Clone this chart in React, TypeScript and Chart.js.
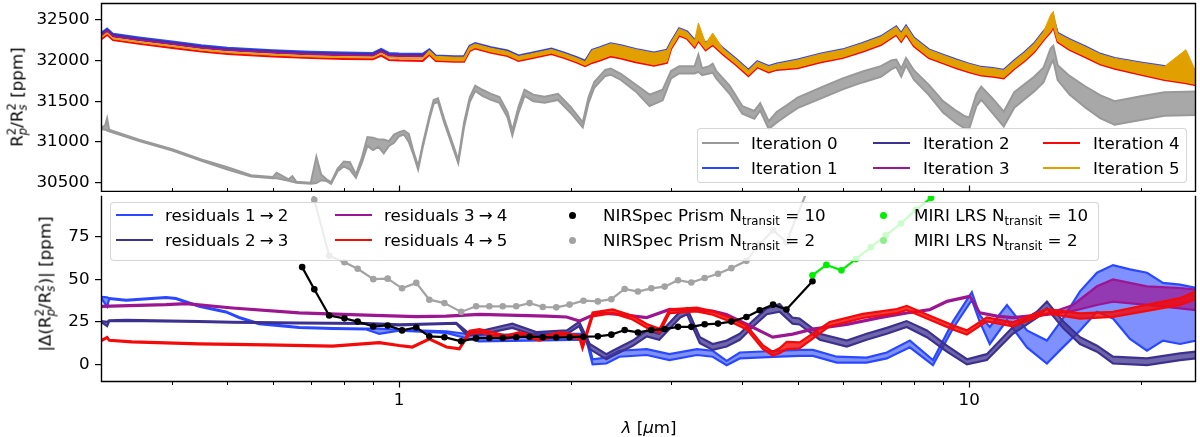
import { useEffect, useRef } from "react"
import { Chart, registerables } from "chart.js"

Chart.register(...registerables)

// ---------- top panel: transit depth per iteration (ppm) ----------
const iter0Wl = [0.3, 0.305, 0.3075, 0.31, 0.35, 0.4, 0.45, 0.5, 0.55, 0.6, 0.61, 0.64, 0.65, 0.66, 0.7, 0.716, 0.73, 0.745, 0.76, 0.78, 0.8, 0.82, 0.84, 0.86, 0.88, 0.9, 0.92, 0.94, 0.96, 0.98, 1.0, 1.02, 1.04, 1.06, 1.08, 1.1, 1.13, 1.15, 1.17, 1.2, 1.25, 1.27, 1.3, 1.33, 1.36, 1.4, 1.45, 1.5, 1.55, 1.58, 1.62, 1.66, 1.72, 1.8, 1.9, 2.0, 2.1, 2.15, 2.2, 2.3, 2.35, 2.45, 2.6, 2.75, 2.9, 3.0, 3.1, 3.3, 3.35, 3.4, 3.5, 3.55, 3.6, 3.8, 4.0, 4.2, 4.3, 4.45, 4.6, 4.8, 5.0, 5.5, 6.0, 6.5, 7.0, 7.3, 7.45, 7.6, 7.75, 8.0, 8.5, 9.0, 9.5, 9.8, 10, 10.3, 10.5, 11, 11.5, 12, 13, 13.5, 13.9, 14.05, 14.3, 15, 16, 17, 18, 20, 22, 25]
const iter0Lo = [31160, 31150, 31140, 31130, 31010, 30894, 30768, 30662, 30575, 30553, 30555, 30523, 30512, 30498, 30485, 30495, 30530, 30520, 30485, 30640, 30700, 30660, 30560, 30740, 30950, 30900, 30940, 30860, 30950, 30990, 31070, 31090, 31000, 30840, 30660, 30930, 31275, 31470, 31490, 31235, 30880, 30740, 31180, 31490, 31625, 31565, 31515, 31480, 31300, 31080, 31360, 31565, 31500, 31480, 31515, 31355, 31180, 31480, 31665, 31810, 31825, 31760, 31620, 31440, 31510, 31780, 31840, 31840, 31860, 31820, 31840, 31850, 31780, 31590, 31345, 31285, 31385, 31160, 31240, 31330, 31415, 31535, 31645, 31730, 31800, 31890, 31920, 31800, 31940, 31765, 31575, 31360, 31230, 31170, 31160, 31440, 31520, 31350, 31190, 31420, 31620, 31730, 31950, 32000, 31760, 31580, 31420, 31290, 31210, 31270, 31320, 31330]
const iter0Hi = [31176, 31200, 31290, 31150, 31026, 30910, 30784, 30690, 30590, 30568, 30620, 30540, 30580, 30512, 30500, 30819, 30600, 30545, 30505, 30670, 30760, 30750, 30600, 30800, 31060, 31050, 31030, 31030, 31010, 31090, 31120, 31140, 31100, 30880, 30700, 30970, 31315, 31515, 31535, 31280, 30920, 30775, 31235, 31545, 31690, 31640, 31590, 31550, 31365, 31140, 31430, 31640, 31580, 31555, 31590, 31430, 31240, 31550, 31735, 31885, 31900, 31835, 31705, 31580, 31640, 31870, 31930, 31930, 32070, 31905, 31930, 31960, 31870, 31690, 31440, 31380, 31475, 31255, 31370, 31455, 31545, 31670, 31780, 31865, 31930, 32000, 32010, 31900, 32030, 31880, 31700, 31500, 31380, 31320, 31300, 31590, 31680, 31530, 31370, 31610, 31800, 31910, 32150, 32180, 31940, 31810, 31680, 31570, 31500, 31560, 31610, 31620]

const iterWl = [0.3, 0.3075, 0.315, 0.35, 0.4, 0.45, 0.5, 0.6, 0.7, 0.8, 0.9, 0.93, 0.96, 1.0, 1.1, 1.13, 1.16, 1.25, 1.3, 1.33, 1.36, 1.45, 1.55, 1.62, 1.7, 1.85, 1.95, 2.05, 2.12, 2.18, 2.25, 2.35, 2.45, 2.6, 2.8, 2.95, 3.0, 3.1, 3.2, 3.3, 3.35, 3.45, 3.55, 3.7, 3.9, 4.1, 4.25, 4.45, 4.6, 5.0, 5.5, 6.0, 6.5, 7.0, 7.45, 7.6, 7.75, 8.0, 8.5, 9.0, 9.5, 10, 10.5, 11, 11.5, 12, 12.5, 13, 13.5, 13.9, 14.05, 14.3, 15, 16, 17, 18, 20, 22, 24, 25]
const iter1 = [32335, 32390, 32325, 32280, 32230, 32185, 32155, 32125, 32105, 32095, 32090, 32140, 32090, 32085, 32080, 32135, 32060, 32050, 32050, 32180, 32213, 32160, 32120, 32060, 32090, 32145, 32095, 32040, 31995, 32130, 32160, 32210, 32185, 32140, 32095, 32130, 32230, 32395, 32355, 32250, 32330, 32215, 32280, 32150, 32020, 31885, 31990, 31930, 31960, 32010, 32085, 32135, 32213, 32295, 32418, 32336, 32426, 32280, 32135, 32070, 32010, 31960, 31920, 31906, 31885, 32000, 32100, 32210, 32356, 32460, 32520, 32336, 32260, 32170, 32080, 32030, 31975, 31930, 31890, 31865]
const iter2 = [32320, 32375, 32310, 32265, 32215, 32170, 32140, 32110, 32090, 32080, 32075, 32125, 32075, 32070, 32065, 32123, 32048, 32038, 32038, 32168, 32201, 32148, 32108, 32048, 32078, 32133, 32083, 32028, 31983, 32115, 32145, 32195, 32170, 32125, 32080, 32115, 32215, 32380, 32340, 32235, 32315, 32200, 32265, 32135, 32005, 31870, 31975, 31915, 31945, 31995, 32070, 32120, 32198, 32280, 32403, 32321, 32411, 32265, 32120, 32055, 31995, 31945, 31905, 31891, 31870, 31985, 32085, 32195, 32341, 32445, 32505, 32321, 32245, 32155, 32065, 32015, 31960, 31915, 31875, 31850]
const iter3 = [32305, 32360, 32295, 32250, 32200, 32155, 32125, 32095, 32075, 32065, 32060, 32110, 32060, 32055, 32050, 32110, 32035, 32025, 32025, 32155, 32188, 32135, 32095, 32035, 32065, 32120, 32070, 32015, 31970, 32100, 32130, 32180, 32155, 32110, 32065, 32100, 32200, 32365, 32325, 32220, 32300, 32185, 32250, 32120, 31990, 31855, 31960, 31900, 31930, 31980, 32055, 32105, 32183, 32265, 32388, 32306, 32396, 32250, 32105, 32040, 31980, 31930, 31890, 31876, 31855, 31970, 32070, 32180, 32326, 32430, 32490, 32306, 32230, 32140, 32050, 32000, 31945, 31900, 31860, 31835]
const iter4 = [32260, 32315, 32250, 32205, 32155, 32110, 32080, 32050, 32030, 32020, 32015, 32060, 32005, 32000, 31995, 32070, 31995, 31985, 31985, 32115, 32148, 32095, 32055, 31995, 32025, 32080, 32030, 31975, 31930, 31970, 32000, 32050, 32025, 31980, 31935, 31970, 32140, 32305, 32265, 32160, 32240, 32125, 32190, 32075, 31945, 31810, 31915, 31855, 31885, 31905, 31980, 32030, 32108, 32190, 32313, 32231, 32321, 32175, 32030, 31965, 31905, 31855, 31815, 31801, 31780, 31895, 31990, 32100, 32246, 32350, 32410, 32226, 32130, 32040, 31950, 31900, 31825, 31760, 31720, 31695]
const iter5Lo = [32275, 32330, 32265, 32220, 32170, 32125, 32095, 32065, 32045, 32035, 32030, 32080, 32030, 32025, 32020, 32080, 32005, 31995, 31995, 32125, 32158, 32105, 32065, 32005, 32035, 32090, 32040, 31985, 31940, 31982, 32012, 32062, 32037, 31992, 31947, 31982, 32150, 32315, 32275, 32170, 32250, 32135, 32200, 32085, 31955, 31820, 31925, 31865, 31895, 31915, 31990, 32040, 32118, 32200, 32323, 32241, 32331, 32185, 32040, 31975, 31915, 31865, 31825, 31811, 31790, 31905, 32000, 32110, 32256, 32360, 32420, 32236, 32140, 32050, 31960, 31910, 31835, 31770, 31730, 31705]
const iter5Hi = [32285, 32340, 32275, 32230, 32180, 32135, 32105, 32075, 32055, 32045, 32040, 32090, 32040, 32035, 32030, 32125, 32050, 32040, 32040, 32170, 32203, 32150, 32110, 32050, 32080, 32135, 32085, 32030, 31985, 32125, 32155, 32205, 32180, 32135, 32090, 32125, 32225, 32390, 32350, 32245, 32460, 32210, 32336, 32145, 32015, 31880, 31985, 31925, 31955, 32005, 32080, 32130, 32208, 32290, 32413, 32331, 32421, 32275, 32130, 32065, 32005, 31955, 31915, 31901, 31880, 31995, 32095, 32205, 32351, 32560, 32602, 32331, 32255, 32165, 32075, 32025, 31970, 31925, 32131, 31860]

// ---------- bottom panel: residuals and instrument precision (ppm) ----------
const res12Wl = [0.3, 0.3075, 0.31, 0.332, 0.39, 0.406, 0.446, 0.497, 0.524, 0.568, 0.668, 0.764, 0.876, 0.923, 1.0, 1.21, 1.38, 1.69, 2.13, 2.185, 2.31, 2.435, 2.72, 2.98, 3.33, 3.55, 3.755, 3.96, 4.65, 5.04, 5.32, 5.86, 6.61, 7.17, 7.87, 8.64, 9.36, 10.11, 10.44, 10.87, 11.65, 12.63, 13.69, 14.6, 15.65, 16.76, 17.88, 19.15, 20.51, 21.88, 23.44, 25]
const res12Lo = [39.25, 34, 38.5, 37.5, 39.15, 38.5, 34, 30.65, 27.4, 23.75, 21.45, 20.85, 20.55, 18, 19.9, 18.5, 13.5, 14, 14.5, 0, 0.5, 4.5, 5.5, 2.5, 5.5, 4.5, -0.5, 3.5, 4.5, 5, 5, 1, 1, 3.5, 10, -0.5, 21, 38, 25, 12, 26, 10, 0.5, 10, 20, 31, 27, 15, 8, 14, 12, 14]
const res12Hi = [39.75, 39.5, 39, 38, 39.65, 39, 34.5, 31.15, 27.9, 24.25, 21.95, 21.35, 21.05, 21, 20.4, 19.5, 17, 18, 18, 3, 4, 8, 9, 6, 9, 8, 2, 7, 8, 8.5, 8.5, 4.5, 4, 7, 14, 2.5, 25, 42.5, 29, 22, 35, 20, 14, 27, 43, 54, 58.5, 56, 54, 48, 47, 45]

const res23Wl = [0.3, 0.3075, 0.31, 0.332, 0.446, 0.51, 0.668, 0.876, 1.0, 1.13, 1.26, 1.318, 1.384, 1.58, 1.74, 1.97, 2.07, 2.16, 2.31, 2.37, 2.57, 2.72, 2.86, 3.11, 3.2, 3.37, 3.55, 3.755, 3.96, 4.17, 4.415, 4.65, 4.9, 5.04, 5.47, 6.1, 6.61, 7.17, 7.77, 8.43, 9.14, 9.91, 10.74, 11.93, 13.15, 13.69, 14.6, 15.65, 16.76, 17.88, 20.51, 23.44, 25]
const res23Lo = [25, 22.5, 25.4, 25.65, 24.95, 24.55, 24.15, 23.85, 23, 23.5, 23.95, 17, 17.5, 21.5, 17, 18, 22.5, 9, 3, 5, 11, 16.5, 14.5, 27.5, 29.5, 12.5, 8.5, 10.5, 14.5, 22, 29.5, 31, 24, 23.5, 14.5, 10.5, 14.5, 18, 22, 16, 7.5, 0, 2.5, 18, 27.5, 33, 21.5, 12, 7.5, 0.5, -0.5, 2.5, 3.5]
const res23Hi = [25.5, 25, 25.9, 26.15, 25.45, 25.05, 24.65, 24.35, 23.5, 24, 24.45, 19, 19.5, 24, 19, 20, 25, 12, 6, 8, 14, 20, 18, 31, 33, 16, 12, 14, 18, 25.5, 33, 35.5, 27.5, 27, 18, 14, 18, 21.5, 25.5, 20, 11, 3, 6, 22, 31, 37, 25.5, 16, 11, 4.5, 3.5, 6.5, 7.5]

const res34Wl = [0.3, 0.39, 0.423, 0.51, 0.668, 0.876, 1.072, 1.21, 1.384, 1.814, 1.967, 2.073, 2.159, 2.247, 2.435, 2.718, 2.983, 3.549, 3.755, 4.071, 4.292, 4.523, 4.903, 5.316, 6.099, 6.969, 7.773, 8.531, 9.14, 10.03, 10.44, 11.19, 11.93, 13.69, 15.21, 16.76, 17.88, 20.51, 23.44, 25]
const res34Lo = [33.9, 34.9, 35.5, 32.9, 30, 28.7, 27.8, 28.1, 29.1, 28.1, 27.6, 25.2, 27.95, 29.95, 29.15, 27.25, 32.05, 31.05, 29.1, 23.3, 19.5, 15.7, 17.5, 20.5, 23.3, 27.2, 29.95, 31.95, 36.8, 39.8, 30.05, 28.1, 27.2, 29.1, 31.5, 35, 37, 35, 33, 32]
const res34Hi = [34.5, 35.5, 36.1, 33.5, 30.6, 29.3, 28.4, 28.7, 29.7, 28.7, 28.2, 25.8, 28.55, 30.55, 29.75, 27.85, 32.65, 31.65, 29.7, 23.9, 20.1, 16.3, 18.1, 21.1, 23.9, 27.8, 30.55, 32.55, 37.4, 40.4, 30.65, 28.7, 27.8, 29.7, 35, 46, 50, 46, 45, 44]

const res45Wl = [0.3, 0.3075, 0.31, 0.34, 0.446, 0.585, 0.764, 0.923, 1.0, 1.055, 1.13, 1.211, 1.276, 1.329, 1.384, 1.543, 1.626, 1.763, 1.911, 2.073, 2.098, 2.185, 2.369, 2.568, 2.718, 2.864, 2.983, 3.327, 3.549, 3.801, 4.071, 4.345, 4.523, 4.65, 4.786, 5.044, 5.694, 6.509, 7.466, 7.773, 8.531, 9.363, 9.908, 10.74, 11.93, 13.69, 15.65, 17.88, 20.51, 23.44, 25]
const res45Lo = [13.65, 15.5, 13.9, 12.9, 11.8, 11.2, 10.5, 12.45, 10.8, 9.9, 14.7, 9.9, 8.9, 17.8, 18.8, 15, 17, 14, 17, 15, 9.2, 28.3, 30.2, 26.4, 21.6, 18.7, 30.2, 31.2, 29.2, 25.4, 20.6, 9.1, 5.2, 6.5, 9, 9.5, 22.5, 27.3, 30.2, 32, 26.3, 20.5, 17.6, 25.3, 22.4, 30, 27, 28, 31.5, 35, 38.5]
const res45Hi = [14.25, 16.1, 14.5, 13.5, 12.4, 11.8, 11.1, 13.05, 11.4, 10.5, 15.3, 10.5, 9.5, 19.8, 20.8, 17, 19, 16, 19, 17, 11.2, 30.5, 32.4, 28.6, 23.8, 20.9, 32.4, 33.4, 31.4, 27.6, 22.8, 11.3, 7.4, 9.5, 13.2, 13, 25, 29.7, 32.6, 34.5, 28.7, 23, 20, 27.7, 24.8, 32.6, 30, 31, 35, 39, 43]

const nirspecWl = [0.676, 0.71, 0.754, 0.802, 0.846, 0.901, 0.955, 1.012, 1.072, 1.13, 1.201, 1.285, 1.365, 1.44, 1.52, 1.605, 1.694, 1.787, 1.887, 1.991, 2.106, 2.232, 2.357, 2.487, 2.624, 2.77, 2.923, 3.085, 3.256, 3.436, 3.626, 3.827, 4.067, 4.292, 4.529, 4.78, 5.311]
const nirspec10 = [57.3, 44.2, 28.8, 27.1, 25.2, 22.3, 22.9, 20, 21.7, 16.5, 16, 13.6, 15.4, 15.5, 15.5, 16, 16.3, 16, 15.8, 16, 16.3, 16.5, 17.5, 20.2, 18.8, 20.2, 20.8, 22.1, 22.1, 23.6, 24, 25.2, 27.9, 31.9, 35.2, 32.3, 49]
const nirspec2 = [128, 97, 64, 60.2, 56.3, 50.2, 50.5, 44.8, 48, 38.1, 36.1, 30.9, 34.2, 34.2, 34.2, 34.2, 36.1, 33.8, 33.6, 35.2, 37.5, 37.1, 38.4, 44.4, 42.9, 44.8, 45.8, 49.6, 48.2, 50.9, 53.4, 56.7, 61, 71, 79, 72, 110]

const miriWl = [5.311, 5.618, 5.97, 6.326, 6.722, 7.141, 7.59, 8.064, 8.568, 9.103, 9.672]
const miri10 = [52.5, 58.6, 55.4, 62, 69, 76, 83, 91, 98, 106, 113]
const miri2 = [117, 131, 124, 139, 154, 170, 186, 203, 219, 237, 253]

// ---------- axes ----------
const xMajor = [1, 10]
const xMinor = [0.4, 0.5, 0.6, 0.7, 0.8, 0.9, 2, 3, 4, 5, 6, 7, 8, 9, 20]
const topTicks = [30500, 31000, 31500, 32000, 32500]
const bottomTicks = [0, 25, 50, 75]

const COLORS = {
  grey: "#999999",
  blue: "#2a48ff",
  indigo: "#3d318f",
  purple: "#9c1691",
  red: "#f50a0a",
  orange: "#e2a000",
  black: "#000000",
  grey2: "#a3a3a3",
  lime: "#00ee00",
  lightgreen: "#90ee90",
}

const FONT = '"DejaVu Sans", sans-serif'
const FS = 16.7

const pts = (wl: number[], ys: number[]) => wl.map((x, i) => ({ x, y: ys[i] }))

function lineDs(wl: number[], ys: number[], color: string) {
  return { data: pts(wl, ys), borderColor: color, backgroundColor: color, borderWidth: 2.2, pointRadius: 0, fill: false, clip: 0 }
}

function bandDs(wl: number[], lo: number[], hi: number[], color: string, fillColor: string, width = 2.2) {
  return [
    { data: pts(wl, lo), borderColor: color, borderWidth: width, pointRadius: 0, fill: false, clip: 0 },
    { data: pts(wl, hi), borderColor: color, borderWidth: width, pointRadius: 0, fill: "-1", backgroundColor: fillColor, clip: 0 },
  ]
}

function markerDs(wl: number[], ys: number[], color: string) {
  return {
    data: pts(wl, ys), borderColor: color, backgroundColor: color, borderWidth: 2.2,
    pointRadius: 3.3, pointBorderWidth: 0, pointBackgroundColor: color, fill: false, clip: 0,
  }
}

// first in list is drawn first (underneath)
const stack = (list: any[]) => list.map((d, i) => ({ ...d, order: list.length - i }))

// axes box, plus the x tick marks (up inside for the top panel, down outside for the bottom one)
function framePlugin(dir: number, drawTop: boolean) {
  return {
    id: "frame",
    afterDraw(chart: any) {
      const { ctx, chartArea: a } = chart
      const x = chart.scales.x
      const L = Math.round(a.left) + 0.5
      const R = Math.round(a.right) - 0.5
      const T = Math.round(a.top) + 0.5
      const B = Math.round(a.bottom) - 0.5
      ctx.save()
      ctx.strokeStyle = "#000"
      ctx.lineWidth = 1.4
      ctx.beginPath()
      if (drawTop) {
        ctx.moveTo(L, T)
        ctx.lineTo(R, T)
      }
      ctx.moveTo(L, T - 0.7)
      ctx.lineTo(L, B + 0.7)
      ctx.moveTo(R, T - 0.7)
      ctx.lineTo(R, B + 0.7)
      ctx.moveTo(L, B)
      ctx.lineTo(R, B)
      ctx.stroke()
      const tick = (v: number, len: number) => {
        const px = Math.round(x.getPixelForValue(v)) + 0.5
        ctx.beginPath()
        ctx.moveTo(px, B)
        ctx.lineTo(px, B + dir * len)
        ctx.stroke()
      }
      ctx.lineWidth = 1.2
      xMajor.forEach((v) => tick(v, 6))
      ctx.lineWidth = 1
      xMinor.forEach((v) => tick(v, 3.5))
      ctx.restore()
    },
  }
}

function yAxis(min: number, max: number, ticks: number[]) {
  return {
    type: "linear",
    min,
    max,
    afterFit: (s: any) => {
      s.width = 101
      s.paddingTop = 0
      s.paddingBottom = 0
    },
    afterBuildTicks: (s: any) => {
      s.ticks = ticks.map((value) => ({ value }))
    },
    grid: { display: true, drawOnChartArea: false, drawTicks: true, tickLength: 6, color: "#000", lineWidth: 1.2 },
    border: { display: false },
    ticks: { color: "#000", font: { family: FONT, size: FS }, padding: 5.5, autoSkip: false, callback: (v: any) => String(v) },
  }
}

const baseOptions = {
  responsive: false,
  animation: false,
  events: [],
  plugins: { legend: { display: false }, tooltip: { enabled: false } },
  elements: { line: { tension: 0 } },
}

function SupSub({ sup, sub }: { sup: string; sub: string }) {
  return (
    <span style={{ display: "inline-block", verticalAlign: "-0.32em", lineHeight: 0.95, fontSize: "0.7em", textAlign: "left" }}>
      <span style={{ display: "block" }}>{sup}</span>
      <span style={{ display: "block", fontStyle: "italic" }}>{sub}</span>
    </span>
  )
}

function Transit() {
  return (
    <>
      N<sub style={{ fontSize: "0.7em", verticalAlign: "-0.35em", lineHeight: 0 }}>transit</sub>
    </>
  )
}

function Arrow() {
  return <span style={{ margin: "0 4px" }}>{"\u2192"}</span>
}

function Handle({ x, y, color }: { x: number; y: number; color: string }) {
  return <div style={{ position: "absolute", left: x, top: y - 1.25, width: 37, height: 2.5, background: color }} />
}

function Dot({ x, y, color }: { x: number; y: number; color: string }) {
  return <div style={{ position: "absolute", left: x - 3.5, top: y - 3.5, width: 7, height: 7, borderRadius: "50%", background: color }} />
}

function Label({ x, y, children }: { x: number; y: number; children: any }) {
  return (
    <div style={{ position: "absolute", left: x, top: y - 11, height: 22, lineHeight: "22px", fontSize: FS, whiteSpace: "nowrap" }}>
      {children}
    </div>
  )
}

function Box({ left, top, width, height }: { left: number; top: number; width: number; height: number }) {
  return (
    <div
      style={{
        position: "absolute", left, top, width, height, boxSizing: "border-box",
        background: "rgba(255,255,255,0.8)", border: "1px solid rgba(204,204,204,0.8)", borderRadius: 4,
      }}
    />
  )
}

function RotatedTitle({ x, y, children }: { x: number; y: number; children: any }) {
  return (
    <div
      style={{
        position: "absolute", left: x, top: y, fontSize: FS, whiteSpace: "nowrap", lineHeight: "22px",
        transform: "translate(-50%, -50%) rotate(-90deg)",
      }}
    >
      {children}
    </div>
  )
}

export default function App() {
  const topRef = useRef<HTMLCanvasElement>(null)
  const bottomRef = useRef<HTMLCanvasElement>(null)

  useEffect(() => {
    if (!topRef.current || !bottomRef.current) return

    const topChart = new Chart(topRef.current, {
      type: "line",
      data: {
        datasets: stack([
          ...bandDs(iter0Wl, iter0Lo, iter0Hi, COLORS.grey, "rgba(153,153,153,0.85)", 2),
          lineDs(iterWl, iter1, COLORS.blue),
          lineDs(iterWl, iter2, COLORS.indigo),
          lineDs(iterWl, iter3, COLORS.purple),
          lineDs(iterWl, iter4, COLORS.red),
          ...bandDs(iterWl, iter5Lo, iter5Hi, COLORS.orange, COLORS.orange, 1),
        ]),
      },
      options: {
        ...baseOptions,
        layout: { padding: { left: 0, right: 4, top: 3, bottom: 0 } },
        scales: {
          x: { type: "logarithmic", min: 0.3, max: 25, display: false },
          y: yAxis(30385, 32705, topTicks),
        },
      } as any,
      plugins: [framePlugin(-1, true)],
    })

    const bottomChart = new Chart(bottomRef.current, {
      type: "line",
      data: {
        datasets: stack([
          ...bandDs(res12Wl, res12Lo, res12Hi, COLORS.blue, "rgba(42,72,255,0.6)"),
          ...bandDs(res23Wl, res23Lo, res23Hi, COLORS.indigo, "rgba(61,49,143,0.75)"),
          ...bandDs(res34Wl, res34Lo, res34Hi, COLORS.purple, "rgba(156,22,145,0.7)"),
          ...bandDs(res45Wl, res45Lo, res45Hi, COLORS.red, "rgba(245,10,10,0.8)"),
          markerDs(nirspecWl, nirspec10, COLORS.black),
          markerDs(nirspecWl, nirspec2, COLORS.grey2),
          markerDs(miriWl, miri10, COLORS.lime),
          markerDs(miriWl, miri2, COLORS.lightgreen),
        ]),
      },
      options: {
        ...baseOptions,
        layout: { padding: { left: 0, right: 4, top: 0, bottom: 0 } },
        scales: {
          x: {
            type: "logarithmic",
            min: 0.3,
            max: 25,
            afterFit: (s: any) => {
              s.height = 55
              s.paddingLeft = 0
              s.paddingRight = 0
            },
            afterBuildTicks: (s: any) => {
              s.ticks = xMajor.map((value) => ({ value }))
            },
            grid: { display: false, drawTicks: false },
            border: { display: false },
            ticks: {
              color: "#000", font: { family: FONT, size: FS }, padding: 9,
              maxRotation: 0, autoSkip: false, callback: (v: any) => String(v),
            },
          },
          y: yAxis(-10.4, 99.2, bottomTicks),
        },
      } as any,
      plugins: [framePlugin(1, false)],
    })

    return () => {
      topChart.destroy()
      bottomChart.destroy()
    }
  }, [])

  return (
    <div style={{ position: "absolute", left: 0, top: 0, width: 1200, height: 437, fontFamily: FONT, color: "#000", background: "#fff", overflow: "hidden" }}>
      <canvas ref={topRef} width={1200} height={192} style={{ position: "absolute", left: 0, top: 0 }} />
      <canvas ref={bottomRef} width={1200} height={245} style={{ position: "absolute", left: 0, top: 192 }} />

      <RotatedTitle x={17} y={97}>
        R<SupSub sup="2" sub="p" />/R<SupSub sup="2" sub="s" /> [ppm]
      </RotatedTitle>
      <RotatedTitle x={45} y={284}>
        |Δ(R<SupSub sup="2" sub="p" />/R<SupSub sup="2" sub="s" />)| [ppm]
      </RotatedTitle>
      <div style={{ position: "absolute", left: 649, top: 427, transform: "translate(-50%, -50%)", fontSize: FS, whiteSpace: "nowrap" }}>
        <i>λ</i> [<i>μ</i>m]
      </div>

      <Box left={697} top={128} width={490} height={55} />
      <Handle x={702} y={143} color={COLORS.grey} />
      <Label x={751} y={143}>Iteration 0</Label>
      <Handle x={702} y={168} color={COLORS.blue} />
      <Label x={751} y={168}>Iteration 1</Label>
      <Handle x={873} y={143} color={COLORS.indigo} />
      <Label x={923} y={143}>Iteration 2</Label>
      <Handle x={873} y={168} color={COLORS.purple} />
      <Label x={923} y={168}>Iteration 3</Label>
      <Handle x={1043} y={143} color={COLORS.red} />
      <Label x={1093} y={143}>Iteration 4</Label>
      <Handle x={1043} y={168} color={COLORS.orange} />
      <Label x={1093} y={168}>Iteration 5</Label>

      <Box left={110} top={202} width={989} height={59} />
      <Handle x={116} y={215} color={COLORS.blue} />
      <Label x={165} y={215}>residuals 1<Arrow />2</Label>
      <Handle x={116} y={240} color={COLORS.indigo} />
      <Label x={165} y={240}>residuals 2<Arrow />3</Label>
      <Handle x={335} y={215} color={COLORS.purple} />
      <Label x={384} y={215}>residuals 3<Arrow />4</Label>
      <Handle x={335} y={240} color={COLORS.red} />
      <Label x={384} y={240}>residuals 4<Arrow />5</Label>
      <Dot x={572} y={215} color={COLORS.black} />
      <Label x={603} y={215}>NIRSpec Prism <Transit /> = 10</Label>
      <Dot x={572} y={240} color={COLORS.grey2} />
      <Label x={603} y={240}>NIRSpec Prism <Transit /> = 2</Label>
      <Dot x={883} y={215} color={COLORS.lime} />
      <Label x={914} y={215}>MIRI LRS <Transit /> = 10</Label>
      <Dot x={883} y={240} color={COLORS.lightgreen} />
      <Label x={914} y={240}>MIRI LRS <Transit /> = 2</Label>
    </div>
  )
}
